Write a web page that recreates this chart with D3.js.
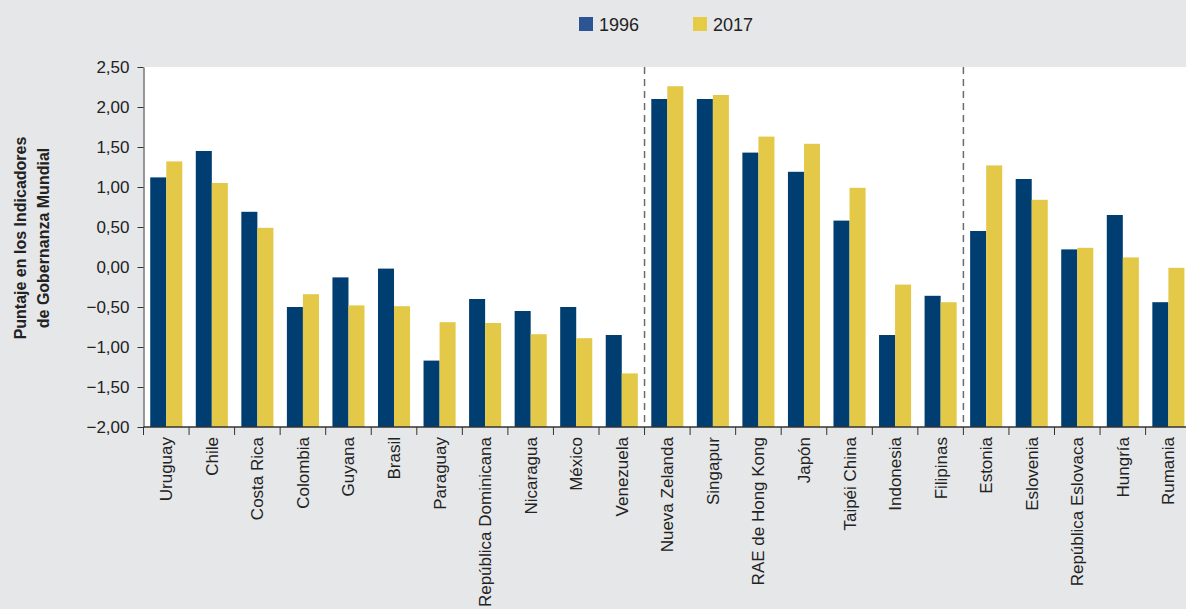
<!DOCTYPE html>
<html>
<head>
<meta charset="utf-8">
<script src="https://cdn.jsdelivr.net/npm/d3@7"></script>
<style>
  body { margin: 0; background: #e6e7e9; }
  svg { display: block; font-family: "Liberation Sans", Arial, sans-serif; }
</style>
</head>
<body>
<div id="chart"></div>
<script>
// categories and series
const countries = ["Uruguay", "Chile", "Costa Rica", "Colombia", "Guyana", "Brasil", "Paraguay",
    "República Dominicana", "Nicaragua", "México", "Venezuela",
    "Nueva Zelanda", "Singapur", "RAE de Hong Kong", "Japón", "Taipéi China", "Indonesia", "Filipinas",
    "Estonia", "Eslovenia", "República Eslovaca", "Hungría", "Rumania"]
const years = ["1996", "2017"]
const v1996 = [1.12, 1.45, 0.69, -0.50, -0.13, -0.02, -1.17, -0.40, -0.55, -0.50, -0.85,
    2.10, 2.10, 1.43, 1.19, 0.58, -0.85, -0.36,
    0.45, 1.10, 0.22, 0.65, -0.44]
const v2017 = [1.32, 1.05, 0.49, -0.34, -0.48, -0.49, -0.69, -0.70, -0.84, -0.89, -1.33,
    2.26, 2.15, 1.63, 1.54, 0.99, -0.22, -0.44,
    1.27, 0.84, 0.24, 0.12, -0.01]
const yTicks = [-2, -1.5, -1, -0.5, 0, 0.5, 1, 1.5, 2, 2.5]
// group breaks (after these categories)
const groupEnds = ["Venezuela", "Filipinas"]

const colors = { "1996": "#003e71", "2017": "#e4c948" }
const legendColors = { "1996": "#2d5494", "2017": "#e6cb45" }

const W = 1186, H = 609
const plotLeft = 143.5, plotTop = 67, plotBottom = 427
const step = 45.55

const data = countries.map(function (c, i) {
    return { country: c, values: [{ year: "1996", v: v1996[i] }, { year: "2017", v: v2017[i] }] }
})

const svg = d3.select("#chart").append("svg")
    .attr("width", W)
    .attr("height", H)

svg.append("rect").attr("width", W).attr("height", H).attr("fill", "#e6e7e9")

const x0 = d3.scaleBand()
    .domain(countries)
    .range([plotLeft, plotLeft + countries.length * step])
    .padding(0)

const x1 = d3.scaleBand()
    .domain(years)
    .range([0, x0.bandwidth()])
    .paddingInner(0)
    .paddingOuter(0.42)

const y = d3.scaleLinear()
    .domain([-2, 2.5])
    .range([plotBottom, plotTop])

// plot area
svg.append("rect")
    .attr("x", plotLeft)
    .attr("y", plotTop)
    .attr("width", W - plotLeft)
    .attr("height", plotBottom - plotTop)
    .attr("fill", "#ffffff")

// bars (grow up from the bottom of the axis)
const groups = svg.selectAll(".grp")
    .data(data)
    .enter().append("g")
    .attr("class", "grp")
    .attr("transform", function (d) { return "translate(" + x0(d.country) + ",0)" })

groups.selectAll("rect")
    .data(function (d) { return d.values })
    .enter().append("rect")
    .attr("x", function (d) { return x1(d.year) })
    .attr("width", x1.bandwidth())
    .attr("y", function (d) { return y(d.v) })
    .attr("height", function (d) { return y(-2) - y(d.v) })
    .attr("fill", function (d) { return colors[d.year] })

// dashed separators
svg.selectAll(".sep")
    .data(groupEnds)
    .enter().append("line")
    .attr("class", "sep")
    .attr("x1", function (d) { return x0(d) + x0.step() })
    .attr("x2", function (d) { return x0(d) + x0.step() })
    .attr("y1", plotTop)
    .attr("y2", plotBottom)
    .attr("stroke", "#6b6b6b")
    .attr("stroke-width", 1.5)
    .attr("stroke-dasharray", "7,5")

// y axis
const fmt = d3.formatLocale({ decimal: ",", thousands: ".", grouping: [3], currency: ["", ""], minus: "\u2212" }).format(".2f")

const yAxis = svg.append("g")
    .attr("transform", "translate(" + plotLeft + ",0)")
    .call(d3.axisLeft(y).tickValues(yTicks).tickFormat(fmt).tickSize(6).tickSizeOuter(0).tickPadding(8))

yAxis.select(".domain").attr("stroke", "#333")
yAxis.selectAll(".tick line").attr("stroke", "#333")
yAxis.selectAll("text")
    .attr("fill", "#222")
    .style("font-size", "17px")

// x axis
const xAxis = svg.append("g")
    .attr("transform", "translate(0," + plotBottom + ")")

xAxis.append("line")
    .attr("x1", plotLeft).attr("x2", W)
    .attr("stroke", "#333").attr("stroke-width", 1.5)

xAxis.selectAll(".xt")
    .data(countries)
    .enter().append("line")
    .attr("class", "xt")
    .attr("x1", function (d) { return x0(d) })
    .attr("x2", function (d) { return x0(d) })
    .attr("y1", 0).attr("y2", 8)
    .attr("stroke", "#333")

xAxis.selectAll(".xl")
    .data(countries)
    .enter().append("text")
    .attr("class", "xl")
    .attr("transform", function (d) { return "translate(" + (x0(d) + x0.bandwidth() / 2 + 6) + ",10) rotate(-90)" })
    .attr("text-anchor", "end")
    .attr("fill", "#222")
    .style("font-size", "17px")
    .text(function (d) { return d })

// y title
const yTitle = svg.append("text")
    .attr("transform", "translate(0,238) rotate(-90)")
    .attr("text-anchor", "middle")
    .attr("fill", "#222")
    .style("font-size", "16px")
    .style("font-weight", "bold")

yTitle.append("tspan").attr("x", 0).attr("y", 26).text("Puntaje en los Indicadores")
yTitle.append("tspan").attr("x", 0).attr("y", 49).text("de Gobernanza Mundial")

// legend
const legendX = [579, 693]
const legend = svg.selectAll(".lg")
    .data(years)
    .enter().append("g")
    .attr("class", "lg")
    .attr("transform", function (d, i) { return "translate(" + legendX[i] + ",17)" })

legend.append("rect")
    .attr("width", 14).attr("height", 14)
    .attr("fill", function (d) { return legendColors[d] })

legend.append("text")
    .attr("x", 20).attr("y", 14)
    .attr("fill", "#222")
    .style("font-size", "18px")
    .text(function (d) { return d })
</script>
</body>
</html>
